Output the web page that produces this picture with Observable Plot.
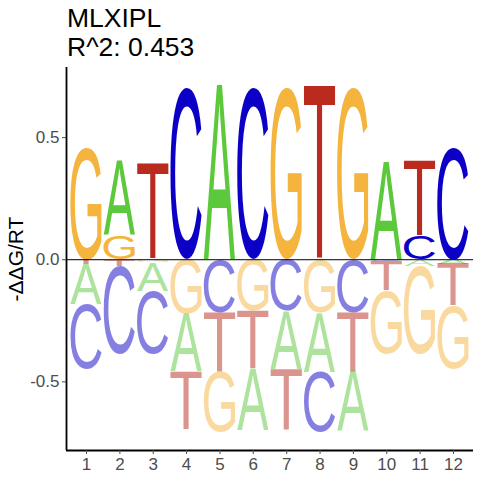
<!DOCTYPE html>
<html><head><meta charset="utf-8">
<script src="https://cdn.jsdelivr.net/npm/d3@7"></script>
<script src="https://cdn.jsdelivr.net/npm/@observablehq/plot@0.6"></script>
<style>html,body{margin:0;padding:0;background:#fff}</style>
</head><body><div id="chart"></div>
<script>
const title = "MLXIPL";
const subtitle = "R^2: 0.453";
const yLabel = "-\u0394\u0394G/RT";
const positions = [1, 2, 3, 4, 5, 6, 7, 8, 9, 10, 11, 12];
const letters = ["A", "C", "G", "T"];
const valA = [-0.164, 0.302, -0.117, -0.235, 0.714, -0.249, -0.238, -0.243, -0.244, 0.397, -0.027, -0.018];
const valC = [-0.265, -0.361, -0.259, 0.700, -0.218, 0.700, -0.211, -0.246, -0.218, -0.007, 0.095, 0.460];
const valG = [0.460, 0.099, -0.012, -0.224, -0.247, -0.211, 0.700, -0.218, 0.700, -0.259, -0.361, -0.258];
const valT = [-0.020, -0.027, 0.395, -0.238, -0.242, -0.238, -0.249, 0.714, -0.242, -0.122, 0.306, -0.173];
const yTicks = [-0.5, 0, 0.5];
const letterColors = {A: "#5CC83B", C: "#0C00C6", G: "#F4B43E", T: "#BA2A1F"};

const values = {A: valA, C: valC, G: valG, T: valT};
const rows = [];
positions.forEach((p, i) => {
  const vals = letters.map(L => ({L, v: values[L][i]}));
  const pos = vals.filter(d => d.v > 0).sort((a, b) => a.v - b.v);
  const neg = vals.filter(d => d.v < 0).sort((a, b) => b.v - a.v);
  let acc = 0;
  for (const d of pos) { const y0 = acc; acc += d.v; rows.push({p, L: d.L, y0, y1: acc, neg: false}); }
  acc = 0;
  for (const d of neg) { const y0 = acc; acc += d.v; rows.push({p, L: d.L, y0, y1: acc, neg: true}); }
});

const FONT = '"Liberation Sans", Arial, sans-serif';
const FS = 100;
const ctx = document.createElement("canvas").getContext("2d");
ctx.font = `${FS}px ${FONT}`;
ctx.textAlign = "left";
ctx.textBaseline = "alphabetic";
const metrics = {};
for (const L of letters) {
  const m = ctx.measureText(L);
  metrics[L] = {l: m.actualBoundingBoxLeft, r: m.actualBoundingBoxRight, a: m.actualBoundingBoxAscent, d: m.actualBoundingBoxDescent};
}
const letterWidth = 0.94;

function logoMark(index, scales) {
  const g = d3.create("svg:g").attr("text-anchor", "start");
  for (const d of rows) {
    const x0 = scales.x(d.p - letterWidth / 2), x1 = scales.x(d.p + letterWidth / 2);
    const ya = scales.y(Math.max(d.y0, d.y1)), yb = scales.y(Math.min(d.y0, d.y1));
    const m = metrics[d.L];
    const sx = (x1 - x0) / (m.l + m.r), sy = (yb - ya) / (m.a + m.d);
    g.append("text")
      .attr("transform", `translate(${x0},${ya}) scale(${sx},${sy}) translate(${m.l},${m.a})`)
      .attr("text-anchor", "start")
      .attr("dominant-baseline", "alphabetic")
      .attr("font-family", FONT)
      .attr("font-size", FS)
      .attr("fill", letterColors[d.L])
      .attr("fill-opacity", d.neg ? 0.5 : 1)
      .text(d.L);
  }
  return g.node();
}

const chart = Plot.plot({
  width: 480, height: 480,
  marginLeft: 66, marginRight: 7, marginTop: 67, marginBottom: 30,
  x: {domain: [0.4, 12.6], axis: null},
  y: {domain: [-0.781, 0.787], axis: null},
  style: {fontFamily: FONT, background: "white", color: "black"},
  marks: [
    logoMark,
    Plot.ruleY([0], {stroke: "black", strokeWidth: 1}),
    Plot.ruleX([0.4], {stroke: "black", strokeWidth: 1.8}),
    Plot.ruleY([-0.781], {stroke: "black", strokeWidth: 1.8}),
    Plot.axisX({ticks: positions, tickSize: 4, tickPadding: 3, tickFormat: d => String(d), fontSize: 17, color: "#4d4d4d", label: null}),
    Plot.axisY({ticks: yTicks, tickSize: 4, tickPadding: 3, tickFormat: d => d.toFixed(1), fontSize: 17, color: "#4d4d4d", label: null}),
    Plot.text([yLabel], {text: d => d, frameAnchor: "left", textAnchor: "middle", rotate: -90, dx: -50, fontSize: 21, fill: "black"}),
    Plot.text([title], {text: d => d, frameAnchor: "top-left", textAnchor: "start", lineAnchor: "bottom", dx: 0.5, dy: -40.3, fontSize: 26.5, fill: "black"}),
    Plot.text([subtitle], {text: d => d, frameAnchor: "top-left", textAnchor: "start", lineAnchor: "bottom", dx: 0.5, dy: -12, fontSize: 26.5, fill: "black"})
  ]
});
document.getElementById("chart").appendChild(chart);
</script>
</body></html>
